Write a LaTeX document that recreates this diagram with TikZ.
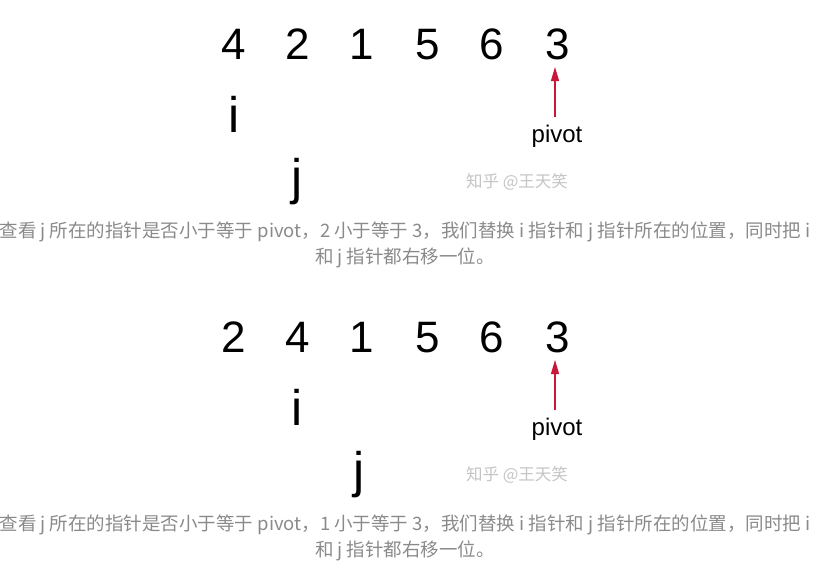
\documentclass[tikz,border=0pt]{standalone}
\usepackage{fontspec}
\setmainfont{Liberation Sans}
\newfontfamily\cjk{Noto Sans CJK SC}
\usetikzlibrary{arrows.meta}
\definecolor{capgray}{HTML}{8A8A8A}
\definecolor{wmgray}{HTML}{C4C4C4}
\definecolor{pivred}{HTML}{C8173A}
\tikzset{
  digit/.style={anchor=base, inner sep=0pt, font=\fontsize{44}{44}\selectfont},
  ptr/.style={anchor=base, inner sep=0pt, font=\fontsize{50}{50}\selectfont},
  pivlabel/.style={anchor=base, inner sep=0pt, font=\fontsize{24}{24}\selectfont},
  caption/.style={anchor=center, inner sep=0pt, text=capgray, font=\cjk\fontsize{18.5}{18.5}\selectfont},
  watermark/.style={anchor=center, inner sep=0pt, text=wmgray, font=\cjk\fontsize{16.5}{16.5}\selectfont},
  pivarrow/.style={draw=pivred, line width=1.3pt, -{Triangle[length=14pt,width=8pt]}}
}
\begin{document}
\begin{tikzpicture}[x=1pt,y=-1pt]
\useasboundingbox (0,0) rectangle (818,576);
% ---------- panel 1 ----------
\node[digit] (a1) at (234,59) {4};
\node[digit] (a2) at (298,59) {2};
\node[digit] (a3) at (362,59) {1};
\node[digit] (a4) at (428,59) {5};
\node[digit] (a5) at (492,59) {6};
\node[digit] (a6) at (558,59) {3};
\node[ptr] (i1) at (234,132) {i};
\node[ptr] (j1) at (297,194) {j};
\node[pivlabel] (p1) at (557,142) {pivot};
\draw[pivarrow] (p1.north -| 555,0) ++(0,-7) coordinate (p1s) -- (555,67) coordinate (p1e);
\node[watermark] (w1) at (517,182) {知乎 @王天笑};
\node[caption] (c1a) at (405,232) {查看 j 所在的指针是否小于等于 pivot，2 小于等于 3，我们替换 i 指针和 j 指针所在的位置，同时把 i};
\node[caption] (c1b) at (405,258) {和 j 指针都右移一位。};
% ---------- panel 2 ----------
\begin{scope}[yshift=-293pt]
\node[digit] (b1) at (234,59) {2};
\node[digit] (b2) at (298,59) {4};
\node[digit] (b3) at (362,59) {1};
\node[digit] (b4) at (428,59) {5};
\node[digit] (b5) at (492,59) {6};
\node[digit] (b6) at (558,59) {3};
\node[ptr] (i2) at (297,132) {i};
\node[ptr] (j2) at (359,194) {j};
\node[pivlabel] (p2) at (557,142) {pivot};
\draw[pivarrow] (p2.north -| 555,0) ++(0,-7) coordinate (p2s) -- (555,67) coordinate (p2e);
\node[watermark] (w2) at (517,182) {知乎 @王天笑};
\node[caption] (c2a) at (405,232) {查看 j 所在的指针是否小于等于 pivot，1 小于等于 3，我们替换 i 指针和 j 指针所在的位置，同时把 i};
\node[caption] (c2b) at (405,258) {和 j 指针都右移一位。};
\end{scope}
\end{tikzpicture}
\end{document}
